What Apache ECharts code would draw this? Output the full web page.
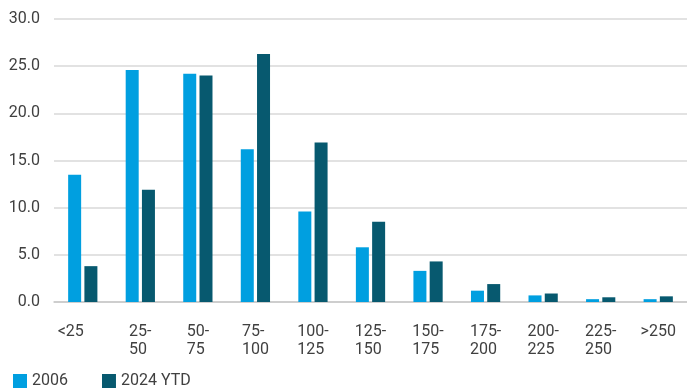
<!DOCTYPE html>
<html>
<head>
<meta charset="utf-8">
<script src="https://cdn.jsdelivr.net/npm/echarts@6/dist/echarts.min.js"></script>
<style>
  html, body { margin: 0; padding: 0; background: #fff; }
  #chart { width: 687px; height: 390px; }
</style>
</head>
<body>
<div id="chart"></div>
<script>
// Price buckets along the x axis
const categories = ['<25', '25-\n50', '50-\n75', '75-\n100', '100-\n125', '125-\n150',
                    '150-\n175', '175-\n200', '200-\n225', '225-\n250', '>250'];
// Share of each bucket (%)
const values2006 = [13.5, 24.6, 24.2, 16.2, 9.6, 5.8, 3.3, 1.2, 0.7, 0.3, 0.3];
const values2024 = [3.8, 11.9, 24.0, 26.3, 16.9, 8.5, 4.3, 1.9, 0.9, 0.5, 0.6];
const seriesNames = ['2006', '2024 YTD'];
const yTicks = { min: 0, max: 30, interval: 5 };

const textColor = '#404040';
const fontFamily = 'Roboto, "Liberation Sans", sans-serif';

const chart = echarts.init(document.getElementById('chart'), null, { renderer: 'canvas' });
chart.setOption({
  animation: false,
  backgroundColor: '#ffffff',
  textStyle: { fontFamily: fontFamily, color: textColor },
  grid: { left: 54, right: -4, top: 19, bottom: 88, containLabel: false },
  legend: {
    left: 8, bottom: -4,
    itemWidth: 14, itemHeight: 14, itemGap: 34,
    icon: 'rect',
    textStyle: { fontSize: 16, color: textColor, fontFamily: fontFamily },
    data: seriesNames
  },
  xAxis: {
    type: 'category',
    data: categories,
    axisLine: { show: true, lineStyle: { color: '#c8c8c8', width: 1.5 } },
    axisTick: { show: false },
    axisLabel: {
      interval: 0,
      margin: 21,
      fontSize: 16,
      lineHeight: 18,
      color: textColor,
      align: 'center',
      // wrapped bucket labels keep both lines flush left
      formatter: function (v) {
        if (v === '<25') return '{shift|' + v + '}';
        return v.split('\n').map(function (l) { return '{l|' + l + '}'; }).join('\n');
      },
      rich: {
        shift: { fontSize: 16, color: textColor, padding: [0, 24, 0, 0] },
        l: { fontSize: 16, lineHeight: 18, color: textColor, align: 'left' }
      }
    }
  },
  yAxis: {
    type: 'value',
    min: yTicks.min, max: yTicks.max, interval: yTicks.interval,
    axisLine: { show: false },
    axisTick: { show: false },
    splitLine: { lineStyle: { color: '#d9d9d9', width: 1.5 } },
    axisLabel: {
      margin: 14, fontSize: 16, color: textColor,
      formatter: function (v) { return v.toFixed(1); }
    }
  },
  series: [
    {
      name: seriesNames[0], type: 'bar', data: values2006,
      barWidth: 13, barGap: '25%',
      itemStyle: { color: '#009FE0' }
    },
    {
      name: seriesNames[1], type: 'bar', data: values2024,
      barWidth: 13,
      itemStyle: { color: '#07596F' }
    }
  ]
});
</script>
</body>
</html>
